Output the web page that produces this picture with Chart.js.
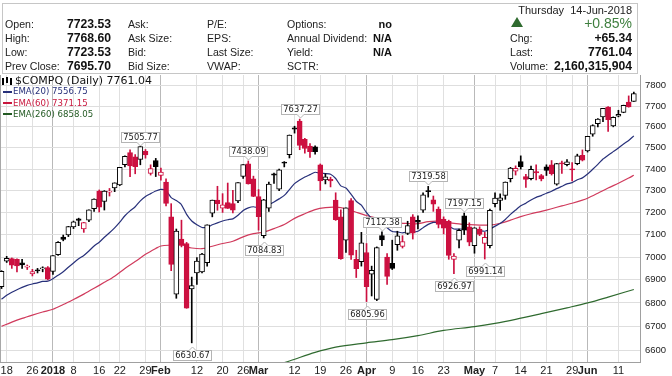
<!DOCTYPE html>
<html>
<head>
<meta charset="utf-8">
<script src="https://cdn.jsdelivr.net/npm/chart.js@4.4.1/dist/chart.umd.min.js"></script>
<style>
html,body{margin:0;padding:0;background:#fff;}
#wrap{position:relative;width:672px;height:376px;overflow:hidden;font-family:"Liberation Sans",Arial,sans-serif;color:#1a1a1a;}
#c{position:absolute;left:0;top:0;}
#hdr{position:absolute;left:2px;top:3px;width:636px;height:71px;border:1px solid #c6c6c6;box-sizing:border-box;}
.t{position:absolute;font-size:10.6px;line-height:14px;height:14px;white-space:nowrap;color:#222;}
.v{font-weight:bold;font-size:12.2px;color:#111;}
.s{font-weight:bold;font-size:11px;color:#111;}
.lg{position:absolute;font-family:"DejaVu Sans",sans-serif;white-space:nowrap;}
.sw{position:absolute;left:3px;width:9px;height:2px;}
.ic{position:absolute;background:#000;width:2px;}
</style>
</head>
<body>
<div id="wrap">
<canvas id="c" width="672" height="376"></canvas>
<div id="hdr"></div>
<div class="t" style="left:5px;top:17px">Open:</div>
<div class="t v" style="right:561px;top:17px">7723.53</div>
<div class="t" style="left:128px;top:17px">Ask:</div>
<div class="t" style="left:207px;top:17px">P/E:</div>
<div class="t" style="left:287px;top:17px">Options:</div>
<div class="t s" style="right:280px;top:17px">no</div>
<div class="t" style="left:5px;top:31px">High:</div>
<div class="t v" style="right:561px;top:31px">7768.60</div>
<div class="t" style="left:128px;top:31px">Ask Size:</div>
<div class="t" style="left:207px;top:31px">EPS:</div>
<div class="t" style="left:287px;top:31px">Annual Dividend:</div>
<div class="t s" style="right:280px;top:31px">N/A</div>
<div class="t" style="left:5px;top:45px">Low:</div>
<div class="t v" style="right:561px;top:45px">7723.53</div>
<div class="t" style="left:128px;top:45px">Bid:</div>
<div class="t" style="left:207px;top:45px">Last Size:</div>
<div class="t" style="left:287px;top:45px">Yield:</div>
<div class="t s" style="right:280px;top:45px">N/A</div>
<div class="t" style="left:5px;top:59px">Prev Close:</div>
<div class="t v" style="right:561px;top:59px">7695.70</div>
<div class="t" style="left:128px;top:59px">Bid Size:</div>
<div class="t" style="left:207px;top:59px">VWAP:</div>
<div class="t" style="left:287px;top:59px">SCTR:</div>
<div class="t" style="right:40px;top:3px;font-size:11px;">Thursday&nbsp;&nbsp;14-Jun-2018</div>
<div style="position:absolute;left:511px;top:17px;width:0;height:0;border-left:6px solid transparent;border-right:6px solid transparent;border-bottom:10px solid #2f6b2f;"></div>
<div class="t" style="right:40px;top:15px;font-size:14px;line-height:17px;height:17px;color:#3f7f3f;">+0.85%</div>
<div class="t" style="left:510px;top:31px">Chg:</div>
<div class="t v" style="right:40px;top:31px">+65.34</div>
<div class="t" style="left:510px;top:45px">Last:</div>
<div class="t v" style="right:40px;top:45px">7761.04</div>
<div class="t" style="left:510px;top:59px">Volume:</div>
<div class="t v" style="right:40px;top:59px">2,160,315,904</div>

<div class="ic" style="left:2px;top:78px;height:7px;"></div>
<div class="ic" style="left:6px;top:77px;height:6px;"></div>
<div class="ic" style="left:10px;top:78px;height:7px;"></div>
<div class="lg" style="left:15px;top:75px;font-size:11px;line-height:12px;color:#111;">$COMPQ (Daily) 7761.04</div>
<div class="sw" style="top:91px;background:#27307a;"></div>
<div class="lg" style="left:13px;top:86px;font-size:8.6px;line-height:11px;color:#27307a;">EMA(20) 7556.75</div>
<div class="sw" style="top:102px;background:#c8173e;"></div>
<div class="lg" style="left:13px;top:98px;font-size:8.6px;line-height:11px;color:#c8173e;">EMA(60) 7371.15</div>
<div class="sw" style="top:113px;background:#235a23;"></div>
<div class="lg" style="left:13px;top:109px;font-size:8.6px;line-height:11px;color:#235a23;">EMA(260) 6858.05</div>
</div>
<script>
const dates = ['2017-12-15','2017-12-18','2017-12-19','2017-12-20','2017-12-21','2017-12-22','2017-12-26','2017-12-27','2017-12-28','2017-12-29',
'2018-01-02','2018-01-03','2018-01-04','2018-01-05','2018-01-08','2018-01-09','2018-01-10','2018-01-11','2018-01-12','2018-01-16','2018-01-17','2018-01-18','2018-01-19','2018-01-22','2018-01-23','2018-01-24','2018-01-25','2018-01-26','2018-01-29','2018-01-30','2018-01-31',
'2018-02-01','2018-02-02','2018-02-05','2018-02-06','2018-02-07','2018-02-08','2018-02-09','2018-02-12','2018-02-13','2018-02-14','2018-02-15','2018-02-16','2018-02-20','2018-02-21','2018-02-22','2018-02-23','2018-02-26','2018-02-27','2018-02-28',
'2018-03-01','2018-03-02','2018-03-05','2018-03-06','2018-03-07','2018-03-08','2018-03-09','2018-03-12','2018-03-13','2018-03-14','2018-03-15','2018-03-16','2018-03-19','2018-03-20','2018-03-21','2018-03-22','2018-03-23','2018-03-26','2018-03-27','2018-03-28','2018-03-29',
'2018-04-02','2018-04-03','2018-04-04','2018-04-05','2018-04-06','2018-04-09','2018-04-10','2018-04-11','2018-04-12','2018-04-13','2018-04-16','2018-04-17','2018-04-18','2018-04-19','2018-04-20','2018-04-23','2018-04-24','2018-04-25','2018-04-26','2018-04-27','2018-04-30',
'2018-05-01','2018-05-02','2018-05-03','2018-05-04','2018-05-07','2018-05-08','2018-05-09','2018-05-10','2018-05-11','2018-05-14','2018-05-15','2018-05-16','2018-05-17','2018-05-18','2018-05-21','2018-05-22','2018-05-23','2018-05-24','2018-05-25','2018-05-29','2018-05-30','2018-05-31',
'2018-06-01','2018-06-04','2018-06-05','2018-06-06','2018-06-07','2018-06-08','2018-06-11','2018-06-12','2018-06-13','2018-06-14'];

const opens = [6870,6982,6993,6990,6975,6955,6926,6942,6948,6954,
6937,7011,7089,7098,7135,7171,7125,7165,7217,7298,7250,7293,7312,7326,7420,7478,7457,7445,7483,7380,7440,
7370,7340,7180,6838,7080,7060,6860,6930,6935,6975,7197,7257,7220,7245,7240,7253,7366,7425,7354,
7273,7095,7220,7378,7307,7432,7468,7595,7628,7540,7508,7505,7420,7350,7352,7257,7180,7075,7254,6990,6980,
7020,6925,6815,7095,7000,6972,7055,7047,7105,7180,7164,7210,7298,7258,7215,7170,7160,6990,7075,7185,7135,
7050,7125,7060,7050,7240,7255,7278,7355,7390,7435,7365,7355,7388,7370,7410,7420,7330,7427,7420,7398,7425,7465,
7485,7565,7615,7648,7695,7605,7652,7670,7720,7723.53];
const highs = [6940,7003,6996,6992,6990,6965,6946,6950,6957,6958,
7007,7069,7098,7137,7161,7174,7155,7212,7262,7303,7300,7310,7336,7408,7462,7490,7468,7505.77,7492,7420,7450,
7405,7355,7240,7125,7165,7065,6912,6998,7016,7144,7256.5,7320,7286,7335,7301,7337.4,7421.5,7438.09,7367,
7305,7260,7340,7381,7400,7435,7561,7603,7637.27,7545,7520,7510,7424,7378,7362,7290,7212,7221,7263,7030,7110,
7060,6960,7045,7112.38,7015,7075,7115,7095,7160,7190,7185,7290,7319.58,7275,7225,7180,7165,7015,7125,7197.15,7153,
7131,7135,7110,7215,7290,7285,7340,7408,7415,7462,7375,7414,7420,7375,7420,7440,7427,7437,7445,7430,7470,7490,
7555,7610,7640,7690,7698,7648,7680,7705,7750,7768.60];
const lows = [6862,6976,6950,6935,6950,6945,6917,6930,6935,6900,
6924,7007,7072,7091,7127,7140,7110,7158,7205,7202,7211,7275,7295,7323,7410,7365,7378,7420,7451,7372,7365,
7348,7230,6940,6820,7045,6777,6630.67,6880,6930,6960,7180,7210,7200,7218,7198,7245,7356,7330,7272,
7120,7084.83,7205,7333,7300,7410,7452,7570,7491,7475,7455,7470,7301,7331,7317,7164,6990,7020,6990,6910,6960,
6805.96,6830,6810,7050,6880,6945,7030,7040,7100,7080,7125,7200,7270,7205,7130,7103,6990,6926.97,7040,7100,7050,
7017,7095,6991.14,7040,7225,7210,7260,7340,7372,7400,7315,7350,7350,7345,7370,7372,7325,7380,7415,7345,7420,7438,
7480,7555,7600,7625,7578,7600,7648,7668,7695,7723.53];
const closes = [6936.58,6994.76,6963.85,6960.96,6965.36,6959.96,6936.25,6939.34,6950.16,6903.39,
7006.90,7065.53,7077.91,7136.56,7157.39,7163.58,7153.57,7211.78,7261.06,7223.69,7298.28,7296.05,7336.38,7408.03,7460.29,7415.06,7411.16,7505.77,7466.51,7402.48,7411.48,
7385.86,7240.95,6967.53,7115.88,7051.98,6777.16,6874.49,6981.96,7013.51,7143.62,7256.43,7239.47,7234.31,7218.23,7210.09,7337.39,7421.46,7330.35,7273.01,
7180.56,7257.87,7330.70,7372.01,7396.65,7427.95,7560.81,7588.32,7511.01,7496.81,7481.74,7481.99,7344.24,7364.30,7345.29,7166.68,6992.67,7220.54,7008.81,6949.23,7063.45,
6870.12,6941.28,7042.11,7076.55,6915.11,6950.34,7094.30,7069.03,7140.25,7106.65,7156.28,7281.10,7295.24,7238.06,7146.13,7128.60,7007.35,7003.74,7118.68,7119.80,7066.27,
7130.70,7100.90,7088.15,7209.62,7265.21,7266.90,7339.91,7404.97,7402.88,7411.32,7351.63,7398.30,7382.47,7354.34,7394.04,7378.46,7425.96,7424.43,7433.85,7396.59,7462.45,7442.12,
7554.33,7606.46,7637.86,7689.24,7635.07,7645.51,7659.93,7703.79,7695.70,7761.04];

const ema20Day = [0,1,2,3,4,5,6,7,8,9,10,11,12,13,14,15,16,17,18,19,20,21,22,23,24,25,26,27,28,29,30,31,32,33,34,35,36,37,38,39,40,41,42,43,44,45,46,47,48,49,50,51,52,53,54,55,56,57,58,59,60,61,62,63,64,65,66,67,68,69,70,71,72,73,74,75,76,77,78,79,80,81,82,83,84,85,86,87,88,89,90,91,92,93,94,95,96,97,98,99,100,101,102,103,104,105,106,107,108,109,110,111,112,113,114,115,116,117,118,119,120,121,122,123];
const ema20Val = [6816,6833,6846,6857,6867,6876,6882,6887,6893,6894,
6905,6920,6935,6955,6974,6992,7007,7027,7049,7066,7088,7108,7130,7156,7185,7207,7226,7253,7273,7286,7298,
7306,7300,7268,7254,7235,7191,7161,7144,7132,7133,7144,7153,7161,7167,7171,7187,7209,7221,7226,
7221,7225,7235,7248,7262,7278,7305,7332,7349,7363,7374,7385,7381,7379,7376,7356,7322,7312,7283,7251,7233,
7199,7174,7162,7154,7131,7114,7112,7108,7111,7111,7115,7131,7146,7155,7154,7152,7138,7125,7125,7124,7119,
7120,7118,7115,7124,7138,7150,7168,7191,7211,7230,7242,7257,7269,7277,7288,7297,7309,7320,7331,7337,7350,7359,
7377,7399,7422,7447,7465,7482,7499,7518,7535,7556.75];

const ema60Day = [0,2,4,6,8,10,12,14,16,18,20,22,24,26,28,30,31,33,35,36,37,39,41,43,45,47,49,51,53,55,57,59,61,63,65,67,69,71,73,75,77,79,81,83,85,87,89,91,93,95,97,99,101,103,105,107,109,111,113,114,116,118,120,122,123];
const ema60Val = [6700,6718,6734,6748,6761,6773,6793,6815,6838,6863,6889,6916,6950,6980,7012,7038,7049,7053,7055,7046,7040,7037,7048,7060,7070,7090,7104,7111,7127,7145,7173,7194,7213,7222,7224,7217,7201,7186,7174,7162,7153,7150,7149,7158,7160,7154,7148,7145,7143,7143,7151,7165,7181,7194,7205,7217,7230,7242,7256,7265,7288,7312,7334,7358,7371.15];

const ema260Day = [50,56,61,65,71,76,81,86,92,96,100,105,110,114,118,123];
const ema260Val = [6516,6555,6591,6613,6631,6644,6661,6683,6699,6713,6730,6754,6779,6800,6825,6858.05];

const tickDates = ['2017-12-18','2017-12-26','2018-01-02','2018-01-08','2018-01-16','2018-01-22','2018-01-29','2018-02-01','2018-02-12','2018-02-20','2018-02-26','2018-03-01','2018-03-12','2018-03-19','2018-03-26','2018-04-02','2018-04-09','2018-04-16','2018-04-23','2018-05-01','2018-05-07','2018-05-14','2018-05-21','2018-05-29','2018-06-01','2018-06-11'];
const tickLabels = ['18','26','2018','8','16','22','29','Feb','12','20','26','Mar','12','19','26','Apr','9','16','23','May','7','14','21','29','Jun','11'];
const boldLabels = ['2018','Feb','Mar','Apr','May','Jun'];
const priceTicks = [6600,6700,6800,6900,7000,7100,7200,7300,7400,7500,7600,7700,7800];

const noteDates = ['2018-01-26','2018-02-09','2018-02-27','2018-03-02','2018-03-13','2018-04-02','2018-04-05','2018-04-18','2018-04-25','2018-04-27','2018-05-03'];
const noteValues = [7505.77,6630.67,7438.09,7084.83,7637.27,6805.96,7112.38,7319.58,6926.97,7197.15,6991.14];
const notePos = ['above','below','above','below','above','below','above','above','below','above','below'];

const RED = '#cc1040', BLACK = '#000000';
const strokes = closes.map((c,k) => (k > 0 && c < closes[k-1]) ? RED : BLACK);
const fills = closes.map((c,k) => c >= opens[k] ? '#ffffff' : strokes[k]);
const tickIdx = tickDates.map(d => dates.indexOf(d));
const labelAt = v => tickLabels[tickIdx.indexOf(v)] || '';

const framePlugin = {
  id:'frame',
  beforeDatasetsDraw(chart){
    const {ctx, chartArea:a} = chart;
    ctx.save(); ctx.strokeStyle='#a8a8a8'; ctx.lineWidth=1;
    ctx.beginPath(); ctx.moveTo(a.left+0.5,a.top); ctx.lineTo(a.left+0.5,a.bottom); ctx.stroke();
    ctx.restore();
  }
};
const notePlugin = {
  id:'notes',
  afterDatasetsDraw(chart){
    const {ctx, scales:{x,y}} = chart;
    ctx.save();
    ctx.font = '8.3px "DejaVu Sans"';
    ctx.textAlign='center'; ctx.textBaseline='middle';
    noteDates.forEach((d,j) => {
      const px = x.getPixelForValue(dates.indexOf(d));
      const py = y.getPixelForValue(noteValues[j]);
      const txt = noteValues[j].toFixed(2);
      const w = Math.round(ctx.measureText(txt).width + 4), h = 10;
      const cx = Math.round(px);
      const bx = cx - Math.round(w/2) + 0.5;
      const above = notePos[j] === 'above';
      const by = above ? Math.round(py - 5 - h) + 0.5 : Math.round(py + 7) + 0.5;
      ctx.fillStyle='#fff'; ctx.strokeStyle='#b4b4b4'; ctx.lineWidth=1;
      ctx.fillRect(bx,by,w,h); ctx.strokeRect(bx,by,w,h);
      ctx.beginPath();
      if (above){ ctx.moveTo(cx-3,by+h); ctx.lineTo(cx+0.5,by+h+3.5); ctx.lineTo(cx+4,by+h); }
      else { ctx.moveTo(cx-3,by); ctx.lineTo(cx+0.5,by-3.5); ctx.lineTo(cx+4,by); }
      ctx.fill(); ctx.stroke();
      ctx.fillRect(cx-2.5, above? by+h-1.2 : by-0.2, 6, 1.4);
      ctx.fillStyle='#222';
      ctx.fillText(txt, bx + w/2, by + h/2 + 0.5);
    });
    ctx.restore();
  }
};

Chart.defaults.font.family = '"Liberation Sans", Arial, sans-serif';
new Chart(document.getElementById('c'), {
  type:'bar',
  data:{ datasets:[
    {type:'bar', data: dates.map((d,k)=>({x:k, y:[opens[k], closes[k]]})), backgroundColor: fills, borderColor: strokes, borderWidth:1, borderSkipped:false, barThickness:5, grouped:false, minBarLength:1, order:0},
    {type:'bar', data: dates.map((d,k)=>({x:k, y:[lows[k], highs[k]]})), backgroundColor: strokes, borderWidth:0, barThickness:1, grouped:false, order:1},
    {type:'line', data: ema20Day.map((k,j)=>({x:k, y:ema20Val[j]})), borderColor:'#27307a', borderWidth:1.2, pointRadius:0, tension:0.2, order:2},
    {type:'line', data: ema60Day.map((k,j)=>({x:k, y:ema60Val[j]})), borderColor:'#d03a5c', borderWidth:1.2, pointRadius:0, tension:0.3, order:3},
    {type:'line', data: ema260Day.map((k,j)=>({x:k, y:ema260Val[j]})), borderColor:'#2f6a2f', borderWidth:1.2, pointRadius:0, cubicInterpolationMode:'monotone', order:4}
  ]},
  options:{
    responsive:false, animation:false, devicePixelRatio:1,
    layout:{padding:{top:75,left:0,right:0,bottom:0}},
    plugins:{legend:{display:false}, tooltip:{enabled:false}},
    scales:{
      x:{type:'linear', min:-0.3, max:124.2, offset:false,
        grid:{offset:false, drawTicks:false, lineWidth:1, color:(c)=> (c.tick && boldLabels.includes(labelAt(c.tick.value))) ? '#b9b9b9' : '#e0e0e0'},
        border:{display:true, color:'#a0a0a0'},
        ticks:{autoSkip:false, maxRotation:0, padding:2, color:'#222',
          font:(c)=>({size:11, weight: (c.tick && boldLabels.includes(labelAt(c.tick.value))) ? 'bold' : 'normal'}),
          callback:(v)=>labelAt(v)},
        afterBuildTicks:(s)=>{ s.ticks = tickIdx.map(v=>({value:v})); },
        afterFit:(s)=>{ s.height = 14; s.paddingLeft = 0; s.paddingRight = 0; }
      },
      y:{type:'logarithmic', position:'right', min:6551, max:7853,
        grid:{drawTicks:false, color:'#dedede'},
        border:{display:true, color:'#a0a0a0'},
        ticks:{padding:5, color:'#222', font:{size:9.5}, callback:(v)=>String(v)},
        afterBuildTicks:(s)=>{ s.ticks = priceTicks.map(v=>({value:v})); },
        afterFit:(s)=>{ s.width = 32; s.paddingTop = 0; s.paddingBottom = 0; }
      }
    }
  },
  plugins:[framePlugin, notePlugin]
});
</script>
</body>
</html>
